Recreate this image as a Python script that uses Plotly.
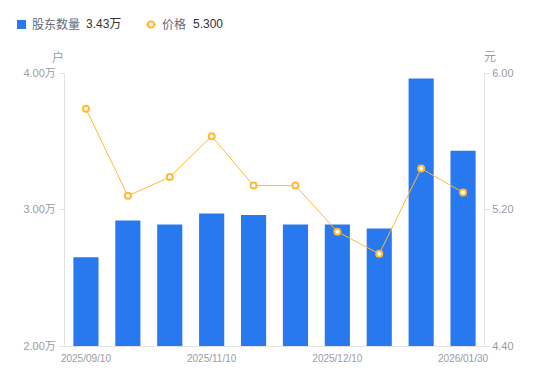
import plotly.graph_objects as go

dates = ["2025/09/10", "2025/09/30", "2025/10/20", "2025/11/10", "2025/11/20",
         "2025/11/30", "2025/12/10", "2025/12/31", "2026/01/20", "2026/01/30"]
holders = [2.65, 2.92, 2.89, 2.97, 2.96, 2.89, 2.89, 2.86, 3.96, 3.43]  # 万户
prices = [5.79, 5.28, 5.39, 5.63, 5.34, 5.34, 5.07, 4.94, 5.44, 5.30]
xticks = ["2025/09/10", "2025/11/10", "2025/12/10", "2026/01/30"]
left_ticks = [2.0, 3.0, 4.0]
left_ticktext = ["2.00万", "3.00万", "4.00万"]
right_ticks = [4.4, 5.2, 6.0]
right_ticktext = ["4.40", "5.20", "6.00"]

FONT = "Liberation Sans, Noto Sans CJK SC, sans-serif"
GRAY = "#9a9ba6"
LABEL = "#666a75"
VALUE = "#333333"
AX = "#e3e3e3"
BLUE = "#2878f0"
ORANGE = "#ffb933"

# plot area in page pixels (page has an 8px body margin)
PL, PR, PT, PB = 65, 484, 73, 346


def px(x):
    return (x - PL) / (PR - PL)


def py(y):
    return (PB - y) / (PB - PT)


fig = go.Figure()
fig.add_trace(go.Bar(
    x=dates, y=holders, name="股东数量",
    marker=dict(color=BLUE, line=dict(width=0)), width=0.6, yaxis="y",
))
fig.add_trace(go.Scatter(
    x=dates, y=prices, name="价格",
    mode="lines+markers", yaxis="y2",
    line=dict(color=ORANGE, width=1),
    marker=dict(symbol="circle", size=6, color="white", line=dict(color=ORANGE, width=2)),
))

LY = 24.5
annotations = [
    dict(text="户", xref="paper", yref="paper", x=px(58), y=py(57), xanchor="center",
         yanchor="middle", showarrow=False, font=dict(size=12, color=GRAY)),
    dict(text="元", xref="paper", yref="paper", x=px(490), y=py(57), xanchor="center",
         yanchor="middle", showarrow=False, font=dict(size=12, color=GRAY)),
    dict(text="股东数量", xref="paper", yref="paper", x=px(30), y=py(LY), xanchor="left",
         yanchor="middle", showarrow=False, font=dict(size=12, color=LABEL)),
    dict(text=f"{holders[-1]:.2f}万", xref="paper", yref="paper", x=px(84), y=py(LY),
         xanchor="left", yanchor="middle", showarrow=False, font=dict(size=12, color=VALUE)),
    dict(text="价格", xref="paper", yref="paper", x=px(160), y=py(LY), xanchor="left",
         yanchor="middle", showarrow=False, font=dict(size=12, color=LABEL)),
    dict(text=f"{prices[-1]:.3f}", xref="paper", yref="paper", x=px(191), y=py(LY),
         xanchor="left", yanchor="middle", showarrow=False, font=dict(size=12, color=VALUE)),
]
shapes = [
    dict(type="rect", xref="paper", yref="paper", x0=px(17), x1=px(26), y0=py(29), y1=py(20),
         fillcolor=BLUE, line=dict(width=0)),
    dict(type="line", xref="paper", yref="paper", x0=px(146), x1=px(156), y0=py(LY), y1=py(LY),
         line=dict(color=ORANGE, width=1.5)),
    dict(type="circle", xref="paper", yref="paper", x0=px(148), x1=px(154), y0=py(LY + 3),
         y1=py(LY - 3), fillcolor="white", line=dict(color=ORANGE, width=2)),
]

fig.update_layout(
    width=550, height=381,
    margin=dict(l=PL - 8, r=550 + 8 - PR, t=PT - 8, b=381 + 8 - PB, autoexpand=False),
    paper_bgcolor="white", plot_bgcolor="white",
    font=dict(family=FONT, size=12, color="#666"),
    showlegend=False,
    xaxis=dict(type="category", categoryorder="array", categoryarray=dates,
               tickmode="array", tickvals=xticks, ticktext=xticks, automargin=False,
               showline=True, linecolor=AX, linewidth=1, ticks="",
               tickfont=dict(size=10, color=GRAY), showgrid=False, zeroline=False,
               range=[-0.5, 9.5], ticklabelstandoff=3),
    yaxis=dict(range=[2.0, 4.0], tickmode="array", tickvals=left_ticks, ticktext=left_ticktext,
               showline=True, linecolor=AX, linewidth=1, ticks="outside", ticklen=5,
               automargin=False,
               tickcolor=AX, tickfont=dict(size=11, color=GRAY), showgrid=False, zeroline=False,
               ticklabelstandoff=1),
    yaxis2=dict(range=[4.4, 6.0], overlaying="y", side="right", tickmode="array",
                tickvals=right_ticks, ticktext=right_ticktext, automargin=False,
                showline=True, linecolor=AX, linewidth=1, ticks="outside", ticklen=5,
                tickcolor=AX, tickfont=dict(size=11, color=GRAY), showgrid=False, zeroline=False),
    annotations=annotations,
    shapes=shapes,
)

fig.write_html("out.html")
